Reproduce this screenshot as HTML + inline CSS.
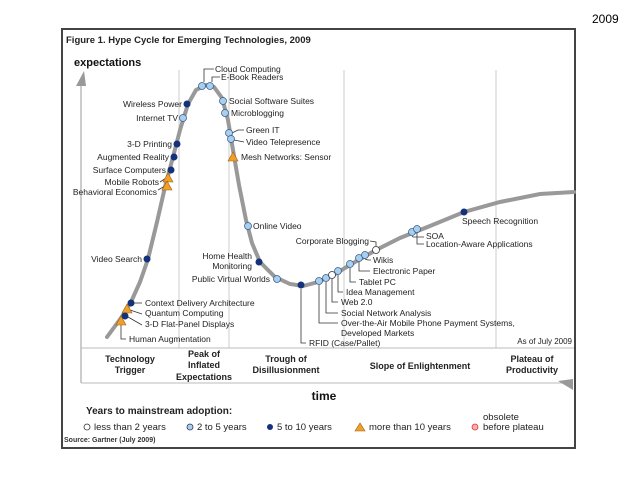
<!DOCTYPE html>
<html><head><meta charset="utf-8"><style>
html,body{margin:0;padding:0;background:#fff;}
svg{display:block;font-family:"Liberation Sans",sans-serif;}
</style></head><body>
<svg id="chart" width="638" height="479" viewBox="0 0 638 479">
<text x="592" y="23" font-size="12" fill="#000">2009</text>
<rect x="62" y="29" width="513" height="419" fill="#fff" stroke="#444" stroke-width="2"/>
<text x="66" y="43" font-size="9.5" font-weight="bold" fill="#222">Figure 1. Hype Cycle for Emerging Technologies, 2009</text>
<text x="74" y="66" font-size="11" font-weight="bold" fill="#111">expectations</text>
<g stroke="#ccc" stroke-width="1">
<line x1="179" y1="70" x2="179" y2="348"/><line x1="229" y1="70" x2="229" y2="348"/>
<line x1="344" y1="70" x2="344" y2="348"/><line x1="496" y1="70" x2="496" y2="348"/>
<line x1="81" y1="348" x2="574" y2="348" stroke="#bbb"/>
<line x1="81" y1="383" x2="570" y2="383" stroke="#bbb"/>
</g>
<line x1="81" y1="82" x2="81" y2="383" stroke="#bbb" stroke-width="1.5"/>
<polygon points="76,86 86,86 84,71" fill="#999"/>
<polygon points="558,381 573,379 573,390" fill="#999"/>
<path id="curve" fill="none" stroke="#999" stroke-width="4" stroke-linecap="round"/>
<g id="leaders" stroke="#333" stroke-width="0.8" fill="none">
<polyline points="204,82 204,69 214,69"/><polyline points="212,82 212,77 220,77"/>
<polyline points="232,133 238,130 244,130"/><polyline points="234,140 244,142"/>
<polyline points="166,178 160,182"/><polyline points="165,186 158,190"/>
<polyline points="134,303 142,303"/><polyline points="130,310 142,314"/><polyline points="128,317 142,325"/>
<polyline points="121,324 121,339 126,339"/>
<polyline points="301,289 301,343 306,343"/>
<polyline points="319,285 319,323 338,323"/><polyline points="326,282 326,313 338,313"/>
<polyline points="332,279 332,302 338,302"/><polyline points="338,275 338,292 343,292"/>
<polyline points="350,268 350,282 356,282"/><polyline points="359,262 359,271 370,271"/>
<polyline points="365,259 368,260 371,260"/><polyline points="376,246 376,242 370,241"/>
<polyline points="412,236 413,237 424,237"/><polyline points="417,233 417,244 424,244"/>
</g>
<g id="labels" font-size="8.5" fill="#222">
<text x="215" y="72">Cloud Computing</text><text x="221" y="80">E-Book Readers</text>
<text x="182" y="107" text-anchor="end">Wireless Power</text><text x="178" y="121" text-anchor="end">Internet TV</text>
<text x="229" y="104">Social Software Suites</text><text x="231" y="116">Microblogging</text>
<text x="172" y="147" text-anchor="end">3-D Printing</text><text x="169" y="160" text-anchor="end">Augmented Reality</text>
<text x="166" y="173" text-anchor="end">Surface Computers</text><text x="159" y="185" text-anchor="end">Mobile Robots</text>
<text x="157" y="195" text-anchor="end">Behavioral Economics</text>
<text x="246" y="133">Green IT</text><text x="246" y="145">Video Telepresence</text>
<text x="241" y="160">Mesh Networks: Sensor</text>
<text x="253" y="229">Online Video</text>
<text x="142" y="262" text-anchor="end">Video Search</text>
<text x="252" y="259" text-anchor="end">Home Health</text><text x="252" y="269" text-anchor="end">Monitoring</text>
<text x="270" y="282" text-anchor="end">Public Virtual Worlds</text>
<text x="369" y="244" text-anchor="end">Corporate Blogging</text>
<text x="145" y="306">Context Delivery Architecture</text><text x="145" y="316">Quantum Computing</text>
<text x="145" y="327">3-D Flat-Panel Displays</text><text x="129" y="342">Human Augmentation</text>
<text x="309" y="346">RFID (Case/Pallet)</text>
<text x="341" y="316">Social Network Analysis</text>
<text x="341" y="326">Over-the-Air Mobile Phone Payment Systems,</text>
<text x="341" y="336">Developed Markets</text>
<text x="341" y="305">Web 2.0</text><text x="346" y="295">Idea Management</text>
<text x="359" y="285">Tablet PC</text><text x="373" y="274">Electronic Paper</text>
<text x="373" y="263">Wikis</text>
<text x="426" y="239">SOA</text><text x="426" y="247">Location-Aware Applications</text>
<text x="462" y="224">Speech Recognition</text>
<text x="572" y="344" text-anchor="end" font-size="8">As of July 2009</text>
</g>
<g id="marks"></g>
<g font-size="9" font-weight="bold" fill="#222" text-anchor="middle">
<text x="130" y="362">Technology</text><text x="130" y="373">Trigger</text>
<text x="204" y="357">Peak of</text><text x="204" y="368">Inflated</text><text x="204" y="380">Expectations</text>
<text x="286" y="362">Trough of</text><text x="286" y="373">Disillusionment</text>
<text x="420" y="369">Slope of Enlightenment</text>
<text x="532" y="362">Plateau of</text><text x="532" y="373">Productivity</text>
</g>
<text x="324" y="400" font-size="12" font-weight="bold" text-anchor="middle" fill="#111">time</text>
<text x="86" y="414" font-size="10" font-weight="bold" fill="#222">Years to mainstream adoption:</text>
<g font-size="9.5" fill="#222">
<g><circle cx="87" cy="427" r="3" fill="#fff" stroke="#333" stroke-width="0.8"/><text x="94" y="430">less than 2 years</text></g>
<g><circle cx="190" cy="427" r="3" fill="#a9cff0" stroke="#335" stroke-width="0.8"/><text x="197" y="430">2 to 5 years</text></g>
<g><circle cx="270" cy="427" r="3" fill="#14327a"/><text x="277" y="430">5 to 10 years</text></g>
<g><polygon points="360,423 355,431 365,431" fill="#f0a02a" stroke="#a06010" stroke-width="0.6"/><text x="369" y="430">more than 10 years</text></g>
<g><circle cx="475" cy="427" r="3" fill="#f7b0b0" stroke="#d33" stroke-width="0.8"/><text x="483" y="420">obsolete</text><text x="483" y="430">before plateau</text></g>
</g>
<text x="64" y="442" font-size="7" font-weight="bold" fill="#333">Source: Gartner (July 2009)</text>
</svg>
<script>
// time (t) and expectation (e) units; origin at axis corner
const curveT = [26,40,50,59,67,76,84,92,99,107,115,125,133,141,147,152,158,165,171,179,194,209,222,237,254,274,295,319,349,383,419,459,493];
const curveE = [11,30,46,66,89,126,161,191,218,244,258,263,261,250,228,198,163,128,105,86,71,64,62,66,74,86,98,110,122,136,146,154,156];
const techNames = ["Cloud Computing","E-Book Readers","Wireless Power","Internet TV","Social Software Suites","Microblogging","3-D Printing","Augmented Reality","Surface Computers","Green IT","Video Telepresence","Mesh Networks: Sensor","Mobile Robots","Behavioral Economics","Video Search","Online Video","Home Health Monitoring","Public Virtual Worlds","RFID (Case/Pallet)","Context Delivery Architecture","Quantum Computing","3-D Flat-Panel Displays","Human Augmentation","OTA Mobile Payment","Social Network Analysis","Web 2.0","Idea Management","Tablet PC","Electronic Paper","Wikis","Corporate Blogging","SOA","Location-Aware Applications","Speech Recognition"];
const techT = [121,129,106,102,142,144,96,93,90,148,150,152,87,86,66,167,178,196,220,50,46,44,40,238,245,251,257,269,278,284,295,331,336,383];
const techE = [262,262,244,230,247,235,204,191,178,215,209,191,170,162,89,122,86,69,63,45,39,32,27,67,70,73,77,84,90,93,98,116,119,136];
const techCat = ["b","b","c","b","b","b","c","c","c","b","b","t","t","t","c","b","c","b","c","c","t","c","t","b","b","a","b","b","b","b","a","b","b","c"];
const X0 = 81, Y0 = 348;
function xScale(t){ return X0 + t; }
function yScale(e){ return Y0 - e; }
const NS = "http://www.w3.org/2000/svg";
let d = "";
for (let i = 0; i < curveT.length; i++) d += (i ? "L" : "M") + xScale(curveT[i]) + "," + yScale(curveE[i]);
document.getElementById("curve").setAttribute("d", d);
const g = document.getElementById("marks");
for (let i = 0; i < techNames.length; i++) {
  const x = xScale(techT[i]), y = yScale(techE[i]);
  let el;
  if (techCat[i] === "t") {
    el = document.createElementNS(NS, "polygon");
    el.setAttribute("points", x + "," + (y - 5) + " " + (x - 5) + "," + (y + 4) + " " + (x + 5) + "," + (y + 4));
    el.setAttribute("fill", "#f0a02a");
    el.setAttribute("stroke", "#a06010");
    el.setAttribute("stroke-width", "0.6");
  } else {
    el = document.createElementNS(NS, "circle");
    el.setAttribute("cx", x); el.setAttribute("cy", y); el.setAttribute("r", "3.5");
    if (techCat[i] === "c") { el.setAttribute("fill", "#14327a"); }
    else if (techCat[i] === "b") { el.setAttribute("fill", "#a9cff0"); el.setAttribute("stroke", "#3a5f8a"); el.setAttribute("stroke-width", "0.8"); }
    else { el.setAttribute("fill", "#fff"); el.setAttribute("stroke", "#333"); el.setAttribute("stroke-width", "0.8"); }
  }
  
  
  g.appendChild(el);
}
</script>
</body></html>
